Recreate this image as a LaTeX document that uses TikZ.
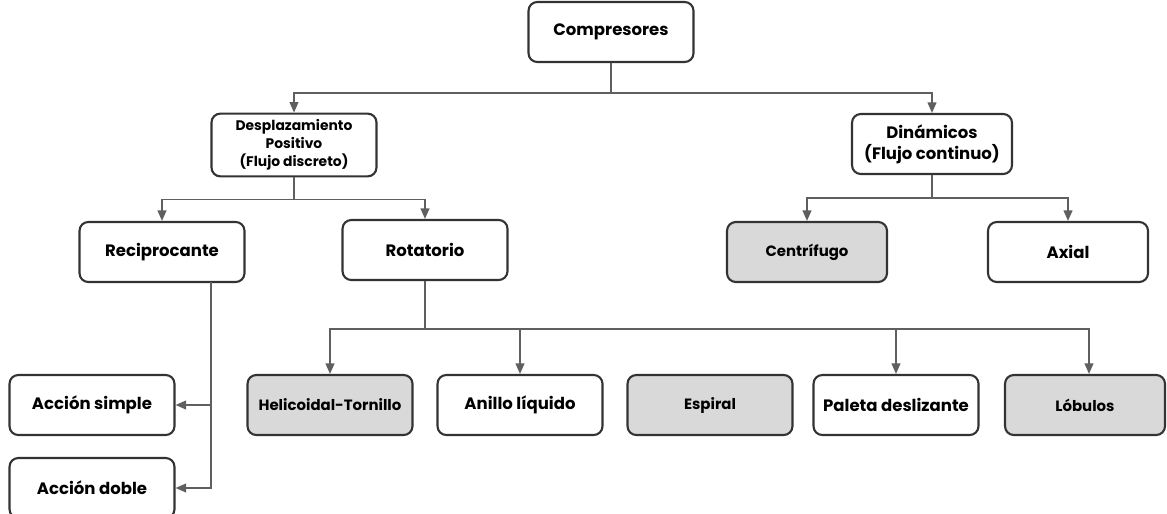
\documentclass[tikz,border=0pt]{standalone}
\usepackage{fontspec}
\setmainfont{Poppins}
\usetikzlibrary{arrows.meta}
\definecolor{linegray}{HTML}{5F5F5F}
\definecolor{boxgray}{HTML}{D9D9D9}
\definecolor{edgegray}{HTML}{333333}
\begin{document}
\begin{tikzpicture}[x=0.02cm, y=-0.02cm,
    box/.style={draw=edgegray, line width=1.2pt, rounded corners=5pt, fill=white,
        minimum width=3.3cm, minimum height=1.2cm, align=center,
        font=\fontsize{9.4}{12}\selectfont\bfseries},
    small/.style={font=\fontsize{8.5}{10}\selectfont\bfseries},
    shaded/.style={fill=boxgray},
    arr/.style={-{Triangle[length=6pt, width=5pt]}, draw=linegray, line width=0.9pt}]
    \useasboundingbox (0,0) rectangle (1167,514);

    % Top level
    \node[box] (comp) at (611,32) {Compresores};

    % Second level
    \node[box, font=\fontsize{7.9}{10.3}\selectfont\bfseries] (desp) at (294,145) {Desplazamiento\\Positivo\\(Flujo discreto)};
    \node[box, minimum width=3.2cm] (dina) at (932,144) {Dinámicos\\(Flujo continuo)};

    % Third level
    \node[box] (reci) at (162,252) {Reciprocante};
    \node[box] (rota) at (425,250) {Rotatorio};
    \node[box, shaded, small, minimum width=3.2cm] (cent) at (807,252) {Centrífugo};
    \node[box, minimum width=3.2cm] (axia) at (1068,252) {Axial};

    % Bottom row
    \node[box] (simp) at (92,405) {Acción simple};
    \node[box] (dobl) at (92,488) {Acción doble};
    \node[box, shaded, small] (heli) at (330,405) {Helicoidal-Tornillo};
    \node[box] (anil) at (520,405) {Anillo líquido};
    \node[box, shaded, small] (espi) at (710,405) {Espiral};
    \node[box] (pale) at (896,405) {Paleta deslizante};
    \node[box, shaded, small, minimum width=3.2cm] (lobu) at (1085,405) {Lóbulos};

    % Connect nodes
    \draw[arr] (comp.south) -- ++(0,30) -| (desp.north);
    \draw[arr] (comp.south) -- ++(0,30) -| (dina.north);
    \draw[arr] (desp.south) -- ++(0,22) -| (reci.north);
    \draw[arr] (desp.south) -- ++(0,22) -| (rota.north);
    \draw[arr] (dina.south) -- ++(0,23) -| (cent.north);
    \draw[arr] (dina.south) -- ++(0,23) -| (axia.north);
    \coordinate (rtap) at (211,282);
    \draw[arr] (rtap) |- (simp.east);
    \draw[arr] (rtap) |- (dobl.east);
    \draw[arr] (rota.south) -- ++(0,48) -| (heli.north);
    \draw[arr] (rota.south) -- ++(0,48) -| (anil.north);
    \draw[arr] (rota.south) -- ++(0,48) -| (pale.north);
    \draw[arr] (rota.south) -- ++(0,48) -| ([xshift=0.08cm]lobu.north);
\end{tikzpicture}
\end{document}
